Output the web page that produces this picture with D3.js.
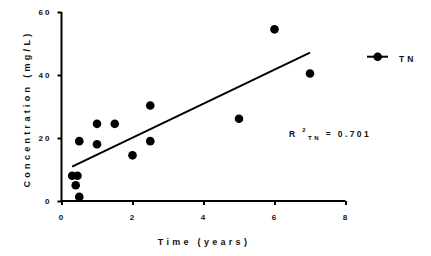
<!DOCTYPE html>
<html lang="en">
<head>
<meta charset="utf-8">
<script src="https://cdn.jsdelivr.net/npm/d3@7"></script>
<style>
  body { margin: 0; background: #fff; }
  text { font-family: "Liberation Sans", Arial, sans-serif; font-weight: bold; fill: #111; }
</style>
</head>
<body>
<script>
var w = 431, h = 256;

// data
var timeYears = [0.3, 0.45, 0.4, 0.5, 0.5, 1, 1, 1.5, 2, 2.5, 2.5, 5, 6, 7];
var tnConc   = [8, 8, 5, 1.3, 19, 24.5, 18, 24.5, 14.5, 30.3, 19, 26.1, 54.5, 40.5];
var trendX = [0.3, 7];
var trendY = [10.9, 47.1];
var xTicks = [0, 2, 4, 6, 8];
var yTicks = [0, 20, 40, 60];

var xScale = d3.scaleLinear().domain([0, 8]).range([61.5, 345.5]);
var yScale = d3.scaleLinear().domain([0, 60]).range([201, 12]);

var svg = d3.select("body").append("svg")
    .attr("width", w).attr("height", h);

// axes
var xAxis = svg.append("g")
    .attr("transform", "translate(0,201)")
    .call(d3.axisBottom(xScale).tickValues(xTicks).tickSize(4).tickPadding(9));
var yAxis = svg.append("g")
    .attr("transform", "translate(61.5,0)")
    .call(d3.axisLeft(yScale).tickValues(yTicks).tickSize(4).tickPadding(6));

[xAxis, yAxis].forEach(function(a) {
    a.select(".domain").attr("stroke", "#000").attr("stroke-width", 2);
    a.selectAll(".tick line").attr("stroke", "#000").attr("stroke-width", 2);
    a.selectAll(".tick text")
        .attr("font-size", "8px")
        .attr("font-family", "Liberation Sans, Arial, sans-serif")
        .attr("font-weight", "bold")
        .attr("letter-spacing", "2px")
        .attr("fill", "#111");
});
xAxis.select(".domain").attr("d", "M61.5,0H345.5");
yAxis.select(".domain").attr("d", "M0,12V201");

// trend line
var line = d3.line()
    .x(function(d) { return xScale(d[0]); })
    .y(function(d) { return yScale(d[1]); });
svg.append("path")
    .datum(d3.zip(trendX, trendY))
    .attr("d", line)
    .attr("fill", "none")
    .attr("stroke", "#000")
    .attr("stroke-width", 2);

// points
svg.selectAll("circle.pt")
    .data(d3.zip(timeYears, tnConc))
    .enter()
    .append("circle")
    .attr("class", "pt")
    .attr("cx", function(d) { return xScale(d[0]); })
    .attr("cy", function(d) { return yScale(d[1]); })
    .attr("r", 4.3)
    .attr("fill", "#000");

// axis titles
svg.append("text")
    .attr("x", 204).attr("y", 245)
    .attr("text-anchor", "middle")
    .attr("font-size", "9px")
    .attr("letter-spacing", "3.3px")
    .text("Time (years)");
svg.append("text")
    .attr("transform", "translate(29.5,109) rotate(-90)")
    .attr("text-anchor", "middle")
    .attr("font-size", "9px")
    .attr("letter-spacing", "3.3px")
    .text("Concentration (mg/L)");

// legend
svg.append("line")
    .attr("x1", 367).attr("x2", 388).attr("y1", 56.7).attr("y2", 56.7)
    .attr("stroke", "#000").attr("stroke-width", 2);
svg.append("circle")
    .attr("cx", 377.7).attr("cy", 56.7).attr("r", 4.3).attr("fill", "#000");
svg.append("text")
    .attr("x", 399).attr("y", 62)
    .attr("font-size", "8.5px")
    .attr("letter-spacing", "3px")
    .attr("font-weight", "normal")
    .text("TN");

// R squared annotation
var r2 = svg.append("text")
    .attr("x", 289).attr("y", 137)
    .attr("font-size", "8.5px")
    .attr("letter-spacing", "2.4px");
r2.append("tspan").text("R ");
r2.append("tspan").attr("font-size", "6px").attr("dy", -5).text("2");
r2.append("tspan").attr("font-size", "6px").attr("dy", 8).text("TN");
r2.append("tspan").attr("dy", -3).text(" = 0.701");
</script>
</body>
</html>
